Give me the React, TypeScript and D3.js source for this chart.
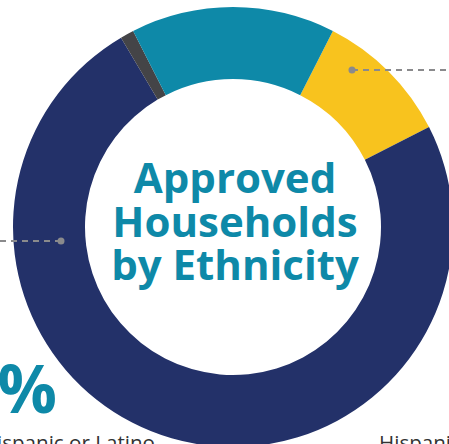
import React from "react";
import * as d3 from "d3";

const categories = ["Hispanic or Latino", "Not Hispanic or Latino", "Unknown", "Declined to Answer"];
const values = [10, 74, 1, 15];
const colors = ["#f8c31e", "#233169", "#444447", "#0e89a8"];
const titleLines = ["Approved", "Households", "by Ethnicity"];
const bigLabel = "74%";

const W = 449;
const H = 444;
const cx = 233;
const cy = 227;
const outerR = 220;
const innerR = 148;
const startDeg = 27;

export default function App() {
  const pie = d3
    .pie<number>()
    .sort(null)
    .value((d) => d)
    .startAngle((startDeg * Math.PI) / 180)
    .endAngle(((startDeg + 360) * Math.PI) / 180);
  const arcs = pie(values);
  const arc = d3.arc<d3.PieArcDatum<number>>().innerRadius(innerR).outerRadius(outerR);

  return (
    <svg
      width={W}
      height={H}
      style={{ position: "absolute", left: 0, top: 0, background: "#fff" }}
      fontFamily="'Open Sans', 'Noto Sans', sans-serif"
    >
      <g transform={`translate(${cx},${cy})`}>
        {arcs.map((a, i) => (
          <path key={categories[i]} d={arc(a) || ""} fill={colors[i]} />
        ))}
      </g>
      {/* callout lines */}
      <line x1={352} y1={70} x2={W} y2={70} stroke="#8a8a8c" strokeWidth={2} strokeDasharray="6,5" />
      <circle cx={352} cy={70} r={3.5} fill="#8a8a8c" />
      <line x1={61} y1={241} x2={0} y2={241} stroke="#8a8a8c" strokeWidth={2} strokeDasharray="6,5" />
      <circle cx={61} cy={241} r={3.5} fill="#8a8a8c" />
      {/* title */}
      <g fill="#0e89a8" fontWeight={700} fontSize={42} textAnchor="middle">
        {titleLines.map((t, i) => (
          <text key={t} x={235} y={193 + i * 43.5}>
            {t}
          </text>
        ))}
      </g>
      <text x={57} y={413} textAnchor="end" fill="#0e89a8" fontWeight={700} fontSize={66}>
        {bigLabel}
      </text>
      <text x={155} y={450} textAnchor="end" fill="#333" fontSize={20.6}>
        {categories[1]}
      </text>
      <text x={379} y={450} textAnchor="start" fill="#333" fontSize={20.6}>
        {categories[0]}
      </text>
    </svg>
  );
}
